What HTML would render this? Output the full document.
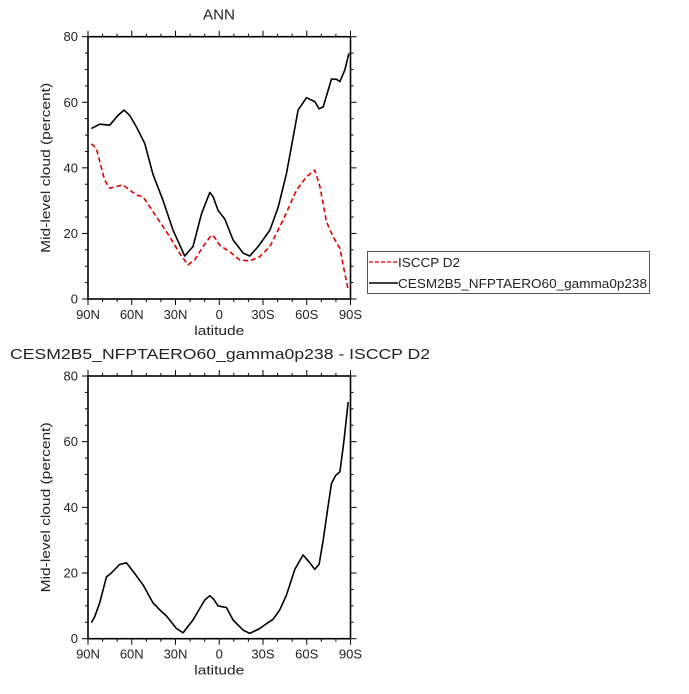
<!DOCTYPE html>
<html><head><meta charset="utf-8"><style>
body{margin:0;background:#fff;}
svg text{font-family:"Liberation Sans",sans-serif;fill:#222;}
</style></head><body>
<svg id="chart" width="689" height="689" xmlns="http://www.w3.org/2000/svg"></svg>
<script>
const latModel=[87.7,82,75.1,69.4,65.3,61.4,56.8,51.1,45.4,38.5,31.7,23.7,18,12.2,6.5,4.2,0.8,-3.8,-9.5,-16.4,-20.9,-26.7,-34.7,-40.4,-46.1,-54.1,-59.8,-65.5,-68.5,-71.3,-77,-80.4,-82.7,-86.1,-88.9];
const modelVals=[52.0,53.3,53,56,57.6,56,52.5,47.5,38,30,21,13.1,16,26,32.5,31.2,27,24.4,18,14,13.1,16,21,28,38.3,57.6,61.4,60.2,58,58.6,67.1,67,66.3,69.8,74.9];
const latObs=[87.7,84.3,78.6,75.1,66,56.8,52.3,43.1,34,27.1,21.4,16.8,11.1,5.4,3.1,-0.3,-7.2,-14.1,-20.9,-27.8,-34.7,-43.8,-53,-59.8,-65.5,-69,-73.5,-78.1,-82.7,-86.1,-88.4];
const obsVals=[47.3,46,36.3,33.8,34.8,31.7,31.2,25.1,19,13.9,10.4,12,16,19.5,18.8,16.4,14.4,11.9,11.6,12.9,16,24.1,33.2,37.3,39.3,34.3,23.6,19,15.5,7.8,2.8];
const latDiff=[87.7,85.4,82,77.4,74,68.3,63.7,59.1,52.3,45.4,39.7,36.2,29.4,24.8,18,13.4,9.9,6.5,3.8,0.8,-2.2,-4.9,-9.5,-16.4,-20.9,-27.8,-32.4,-36.9,-41.5,-46.1,-51.8,-57.5,-62.1,-65.5,-68.5,-71.3,-74.2,-77,-79.9,-82.7,-85.4,-88.4];
const diffVals=[4.9,6.7,10.9,18.8,20,22.6,23.1,20.5,16.4,10.9,8.3,6.9,3.1,1.8,5.7,9.2,11.8,13.1,12,10,9.7,9.5,5.7,2.6,1.6,3.1,4.6,5.9,8.8,13.3,21.1,25.5,23.1,21.1,22.7,30,39.2,47.3,49.8,50.8,59.9,72.1];
const xTickVals=[90,60,30,0,-30,-60,-90];
const xTickLabels=["90N","60N","30N","0","30S","60S","90S"];
const yTickVals=[0,20,40,60,80];

const svg=document.getElementById('chart');
const NS='http://www.w3.org/2000/svg';
function el(tag,attrs,parent){const e=document.createElementNS(NS,tag);for(const k in attrs)e.setAttribute(k,attrs[k]);(parent||svg).appendChild(e);return e;}
function txt(s,attrs,parent){const t=el('text',attrs,parent);t.textContent=s;return t;}

function panel(name,top,bottom,series,title,titleX,titleLen){
  const L=88,R=350.5;
  const g=el('g',{});
  
  
  const xs=lat=>L+(90-lat)/180*(R-L);
  const ys=v=>bottom-(v/80)*(bottom-top);
  for(let lat=90;lat>=-90;lat-=10){const x=xs(lat);const maj=lat%30===0;const len=maj?6:3;
    el('line',{x1:x,x2:x,y1:bottom,y2:bottom+len,stroke:'#000','stroke-width':1},g);
    el('line',{x1:x,x2:x,y1:top,y2:top-len,stroke:'#000','stroke-width':1},g);}
  for(let v=0;v<=80;v+=5){const y=ys(v);const maj=v%20===0;const len=maj?6:3;
    el('line',{x1:L,x2:L-len,y1:y,y2:y,stroke:'#000','stroke-width':1},g);
    el('line',{x1:R,x2:R+len,y1:y,y2:y,stroke:'#000','stroke-width':1},g);}
  el('rect',{x:L,y:top,width:R-L,height:bottom-top,fill:'none',stroke:'#000','stroke-width':1.6},g);
  xTickVals.forEach((v,i)=>{const t=txt(xTickLabels[i],{x:xs(v),y:bottom+20,'text-anchor':'middle','font-size':13},g);
    });
  yTickVals.forEach(v=>{const t=txt(String(v),{x:L-10,y:ys(v)+4.5,'text-anchor':'end','font-size':13},g);
    });
  const xt=txt('latitude',{x:(L+R)/2,y:bottom+36,'text-anchor':'middle','font-size':13,textLength:50,lengthAdjust:'spacingAndGlyphs'},g);
  
  const cy=(top+bottom)/2;
  const yt=txt('Mid-level cloud (percent)',{x:50,y:cy,'text-anchor':'middle','font-size':13,textLength:170,lengthAdjust:'spacingAndGlyphs',transform:`rotate(-90 50 ${cy})`},g);
  
  const tt=txt(title,{x:titleX,y:top-17,'text-anchor':'middle','font-size':14.5,textLength:titleLen,lengthAdjust:'spacingAndGlyphs'},g);
  
  series.forEach(s=>{
    const d=s.lat.map((la,i)=>(i?'L':'M')+xs(la).toFixed(1)+' '+ys(s.vals[i]).toFixed(1)).join(' ');
    const p=el('path',{d:d,fill:'none',stroke:s.color,'stroke-width':1.6,'stroke-dasharray':s.dash||'none','stroke-linejoin':'round'},g);
    
    
  });
}
panel('top-panel',36.7,299,[
  {lat:latObs,vals:obsVals,color:'#e00000',dash:'5 3',name:'isccp-line'},
  {lat:latModel,vals:modelVals,color:'#000',name:'model-line'}],'ANN',219,32);
panel('bottom-panel',376,638.7,[
  {lat:latDiff,vals:diffVals,color:'#000',name:'difference-line'}],'CESM2B5_NFPTAERO60_gamma0p238 - ISCCP D2',220,420);

const lg=el('g',{});


el('rect',{x:367.5,y:251.5,width:282,height:42,fill:'#fff',stroke:'#555','stroke-width':1},lg);
el('line',{x1:369,x2:398,y1:262,y2:262,stroke:'#e00000','stroke-width':1.3,'stroke-dasharray':'4 2'},lg);
el('line',{x1:369,x2:398,y1:283,y2:283,stroke:'#000','stroke-width':1.4},lg);
const l1=txt('ISCCP D2',{x:398,y:267,'font-size':13,textLength:62,lengthAdjust:'spacingAndGlyphs'},lg);

const l2=txt('CESM2B5_NFPTAERO60_gamma0p238',{x:398,y:288,'font-size':13,textLength:249,lengthAdjust:'spacingAndGlyphs'},lg);

</script>
</body></html>
